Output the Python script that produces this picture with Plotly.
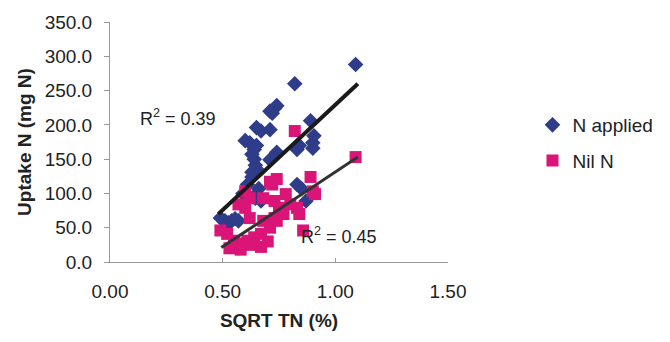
import plotly.graph_objects as go

# N applied (blue diamonds)
napp_x = [1.09, 0.82, 0.74, 0.73, 0.72, 0.71, 0.89, 0.905, 0.90, 0.90, 0.67, 0.71, 0.65,
          0.60, 0.62, 0.64, 0.63, 0.65, 0.83, 0.84, 0.74, 0.71, 0.64, 0.645, 0.65, 0.63,
          0.66, 0.65, 0.645, 0.67, 0.83, 0.85, 0.87, 0.49, 0.51, 0.525, 0.54, 0.555, 0.57,
          0.61, 0.59, 0.63]
napp_y = [288, 260, 228, 224, 217, 220, 206, 184, 174, 166, 191, 193, 196,
          177, 174, 164, 157, 170, 164, 170, 160, 149, 150, 141, 136, 131,
          107, 99, 93, 89, 113, 107, 89, 64, 60, 57, 60, 63, 60,
          113, 100, 124]

# Nil N (pink squares)
nil_x = [1.09, 0.82, 0.89, 0.90, 0.91, 0.857, 0.49, 0.74, 0.72, 0.71, 0.78, 0.80, 0.83,
         0.84, 0.60, 0.62, 0.68, 0.57, 0.60, 0.73, 0.75, 0.52, 0.55, 0.58, 0.61, 0.64,
         0.67, 0.71, 0.74, 0.53, 0.58, 0.63, 0.67, 0.70, 0.68, 0.73, 0.62, 0.77]
nil_y = [153, 191, 124, 103, 99, 46, 46, 121, 113, 117, 99, 84, 79,
         70, 103, 93, 93, 84, 79, 89, 79, 41, 31, 27, 31, 36,
         41, 50, 60, 20, 18, 25, 22, 30, 60, 64, 64, 70]

# Trend line endpoints
trend_napp_x = [0.481, 1.10]
trend_napp_y = [70, 260]
trend_nil_x = [0.494, 1.10]
trend_nil_y = [21, 153]

x_ticks = [0.0, 0.5, 1.0, 1.5]
y_ticks = [0, 50, 100, 150, 200, 250, 300, 350]

BLUE = "#2F3C8A"
PINK = "#DA1577"
FONT = "Liberation Sans, Arial, sans-serif"

fig = go.Figure()
fig.add_trace(go.Scatter(x=napp_x, y=napp_y, mode="markers", name="N applied",
                         legendgroup="a",
                         marker=dict(symbol="diamond", size=12, color=BLUE)))
fig.add_trace(go.Scatter(x=nil_x, y=nil_y, mode="markers", name="Nil N",
                         legendgroup="b",
                         marker=dict(symbol="square", size=12, color=PINK)))
fig.add_trace(go.Scatter(x=trend_napp_x, y=trend_napp_y, mode="lines", showlegend=False,
                         line=dict(color="#1a1a1a", width=4), hoverinfo="skip"))
fig.add_trace(go.Scatter(x=trend_nil_x, y=trend_nil_y, mode="lines", showlegend=False,
                         line=dict(color="#333333", width=3), hoverinfo="skip"))

fig.add_annotation(x=0.303, y=211, xref="x", yref="y", text="R<sup>2</sup> = 0.39",
                   showarrow=False, font=dict(size=18, color="#222", family=FONT))
fig.add_annotation(x=1.017, y=38, xref="x", yref="y", text="R<sup>2</sup> = 0.45",
                   showarrow=False, font=dict(size=18, color="#222", family=FONT))

fig.update_layout(
    width=670, height=342,
    margin=dict(l=110, r=212, t=17, b=80),
    paper_bgcolor="white", plot_bgcolor="white",
    font=dict(family=FONT, size=19, color="#222"),
    showlegend=True,
    legend=dict(x=1.25, y=0.65, xanchor="left", yanchor="top",
                font=dict(size=19, color="#222"), bgcolor="rgba(0,0,0,0)",
                itemwidth=30, traceorder="grouped", tracegroupgap=8),
    xaxis=dict(range=[0, 1.5], tickvals=x_ticks, tickformat=".2f",
               showgrid=False, zeroline=False, showline=True, linecolor="#999",
               linewidth=1, ticks="inside", ticklen=4, tickcolor="#999",
               ticklabelstandoff=12,
               title=dict(text="<b>SQRT TN (%)</b>", font=dict(size=19, color="#222"),
                          standoff=12)),
    yaxis=dict(range=[0, 350], tickvals=y_ticks, tickformat=".1f",
               showgrid=False, zeroline=False, showline=True, linecolor="#999",
               linewidth=1, ticks="outside", ticklen=5, tickcolor="#999",
               ticklabelstandoff=8,
               title=dict(text="<b>Uptake N (mg N)</b>", font=dict(size=19, color="#222"),
                          standoff=8)),
)

fig.write_html("out.html")
